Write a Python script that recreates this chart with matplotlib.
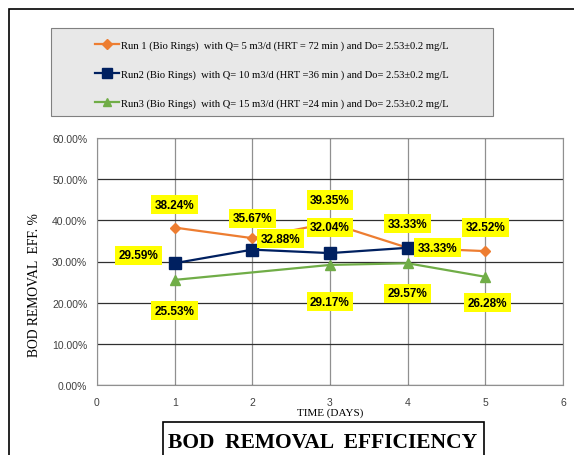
import matplotlib.pyplot as plt
from matplotlib.patches import Rectangle

days1 = [1, 2, 3, 4, 5]
run1 = [38.24, 35.67, 39.35, 33.33, 32.52]
days2 = [1, 2, 3, 4]
run2 = [29.59, 32.88, 32.04, 33.33]
days3 = [1, 3, 4, 5]
run3 = [25.53, 29.17, 29.57, 26.28]

labels = [
    "Run 1 (Bio Rings)  with Q= 5 m3/d (HRT = 72 min ) and Do= 2.53\u00b10.2 mg/L",
    "Run2 (Bio Rings)  with Q= 10 m3/d (HRT =36 min ) and Do= 2.53\u00b10.2 mg/L",
    "Run3 (Bio Rings)  with Q= 15 m3/d (HRT =24 min ) and Do= 2.53\u00b10.2 mg/L",
]

# label offsets in pixels (dx, dy)
off1 = [(0, 23), (0, 20), (0, 23), (0, 24), (0, 24)]
off2 = [(-36, 8), (28, 11), (0, 26), (30, 0)]
off3 = [(0, -31), (0, -37), (0, -30), (2, -26)]

W, H = 574, 456
fig = plt.figure(figsize=(W / 100, H / 100), dpi=100)
ax = fig.add_axes([97 / W, 1 - 386 / H, (563 - 97) / W, (386 - 139) / H])

C1, C2, C3 = "#ED7D31", "#002060", "#70AD47"
l1, = ax.plot(days1, run1, "-D", color=C1, lw=1.6, ms=5.5, zorder=3)
l2, = ax.plot(days2, run2, "-s", color=C2, lw=1.6, ms=8, zorder=4)
l3, = ax.plot(days3, run3, "-^", color=C3, lw=1.6, ms=7, zorder=3)

ax.set_xlim(0, 6)
ax.set_ylim(0, 60)
ax.set_yticks(range(0, 61, 10))
ax.set_yticklabels([f"{v:.2f}%" for v in range(0, 61, 10)])
ax.set_xticks(range(0, 7))
ax.yaxis.grid(True, color="#303030", lw=0.9)
ax.xaxis.grid(True, color="#909090", lw=0.9)
ax.set_axisbelow(True)
for s in ax.spines.values():
    s.set_color("#909090")
ax.tick_params(length=0, labelsize=7.5, labelcolor="#404040")
ax.tick_params(axis="y", pad=7)
ax.tick_params(axis="x", pad=9)
for t in ax.get_xticklabels() + ax.get_yticklabels():
    t.set_family("Liberation Sans")

bbox = dict(boxstyle="square,pad=0.3", fc="#FFFF00", ec="none")
for xs, ys, offs in [(days1, run1, off1), (days2, run2, off2), (days3, run3, off3)]:
    for x, y, (dx, dy) in zip(xs, ys, offs):
        ax.annotate(f"{y:.2f}%", (x, y), xytext=(dx * 0.72, dy * 0.72),
                    textcoords="offset points", ha="center", va="center",
                    fontsize=8.5, fontweight="bold", family="Liberation Sans",
                    bbox=bbox, zorder=6)

ax.set_xlabel("TIME (DAYS)", family="Liberation Serif", fontsize=8, labelpad=0)
ax.set_ylabel("BOD REMOVAL  EFF. %", family="Liberation Serif", fontsize=9.8)
ax.yaxis.set_label_coords(-56 / 466, 0.41)

# outer border
fig.patches.append(Rectangle((9 / W, -0.1), 1.2, 1 - 10 / H + 0.1,
                             transform=fig.transFigure, fill=False, ec="black", lw=1.2))
# legend box
fig.patches.append(Rectangle((51 / W, 1 - 117 / H), 442 / W, 88 / H,
                             transform=fig.transFigure, fc="#E8E8E8", ec="#808080", lw=0.8))
fig.legend([l1, l2, l3], labels, loc="center", bbox_to_anchor=(272 / W, 1 - 75 / H),
           frameon=False, prop={"family": "Liberation Serif", "size": 7.6},
           handlelength=2.2, handletextpad=0.2, labelspacing=1.85, markerscale=0.85)

# title box
fig.patches.append(Rectangle((163 / W, -0.1), (484 - 163) / W, 0.1 + 1 - 423 / H,
                             transform=fig.transFigure, fc="white", ec="black", lw=1.2))
fig.text(323 / W, 1 - 443 / H, "BOD  REMOVAL  EFFICIENCY", ha="center", va="center",
         family="Liberation Serif", fontweight="bold", fontsize=15.5)

fig.savefig("out.png", dpi=100)
